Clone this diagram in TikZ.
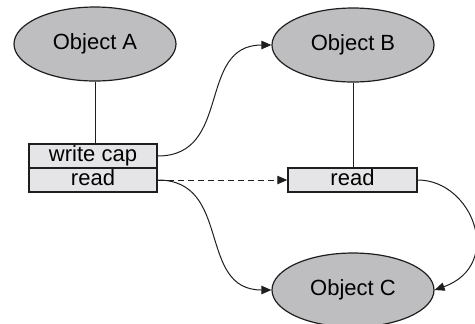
\documentclass[tikz,border=0pt]{standalone}
\usepackage{fontspec}
\setmainfont{Liberation Sans}
\usetikzlibrary{arrows.meta,shapes.geometric}
\definecolor{ink}{HTML}{1E1E1E}
\definecolor{objfill}{HTML}{BEBEC1}
\definecolor{capfill}{HTML}{E5E5E7}
\tikzset{
  object/.style={ellipse, draw=ink, fill=objfill, line width=0.6pt,
                 minimum width=81pt, minimum height=37pt, inner sep=0pt,
                 font=\fontsize{11}{13}\selectfont},
  capbox/.style={rectangle, draw=ink, fill=capfill, line width=0.7pt,
                 minimum width=64pt, minimum height=12pt, inner sep=0pt,
                 text height=8pt, text depth=2.3pt,
                 font=\fontsize{11}{13}\selectfont},
  conn/.style={-{Triangle[length=5pt,width=4.2pt]}, line width=0.5pt, draw=ink},
  link/.style={line width=0.5pt, draw=ink}
}
\begin{document}
\begin{tikzpicture}[x=0.5pt,y=-0.5pt]
  \useasboundingbox (0,0) rectangle (475,323);
  % objects
  \node[object] (objA) at (95,44) {Object A};
  \node[object] (objB) at (353,45) {Object B};
  \node[object] (objC) at (353,290) {Object C};

  % capabilities
  \node[capbox] (wcap) at (93,156) {write cap};
  \node[capbox] (readA) at (93,180) {read};
  \node[capbox,minimum width=64.5pt] (readB) at (352.5,180) {read};

  \draw[link] (objA.south) -- (objA.south |- wcap.north);
  \draw[link] (objB.south) -- (objB.south |- readB.north);

  \draw[conn] (wcap.east) .. controls +(75,0) and +(-75,0) .. (objB.west);
  \draw[conn] (readA.east) .. controls +(75,0) and +(-75,0) .. (objC.west);
  \draw[conn,dash pattern=on 3pt off 2pt] (readA.east) -- (readB.west);
  \draw[conn] (readB.east) .. controls +(55,0) and +(70,-25) .. (objC.east);
\end{tikzpicture}
\end{document}
